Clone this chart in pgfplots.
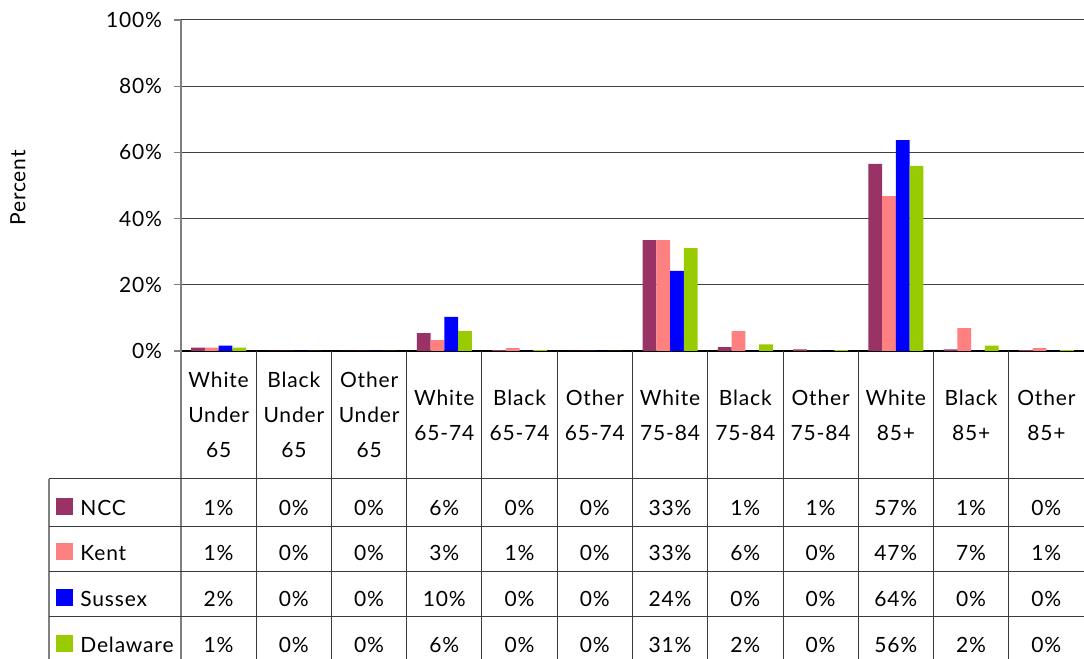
\documentclass[border=0pt]{standalone}
\usepackage{fontspec}
\setmainfont{Lato}[LetterSpace=4]
\usepackage{pgfplots}
\pgfplotsset{compat=1.18}
\definecolor{ncc}{HTML}{993366}
\definecolor{kent}{HTML}{FF8080}
\definecolor{sussex}{HTML}{0000FF}
\definecolor{delaware}{HTML}{99CC00}
\definecolor{linec}{HTML}{808080}
\definecolor{tablec}{HTML}{3A3A3A}

% one row of the data table: baseline y, values
\newcommand\tablerow[2]{%
  \foreach \v [count=\i from 0] in {#2}
    \node[anchor=base, inner sep=0pt] at ({(\i+0.5)*37.625pt},#1) {\v\%};}

\begin{document}
\begin{tikzpicture}[font=\fontsize{10.5}{12.6}\selectfont]
\begin{axis}[
    at={(0,0)}, anchor=south west,
    scale only axis,
    width=451.5pt, height=165.5pt,
    ybar=0pt, bar width=6.875pt,
    xmin=-0.5, xmax=11.5,
    ymin=0, ymax=100,
    xtick=\empty,
    ytick={0,20,40,60,80,100},
    yticklabel={\pgfmathprintnumber{\tick}\%},
    /pgf/number format/assume math mode=true,
    yticklabel style={font=\fontsize{10.5}{12.6}\selectfont, xshift=-2.5pt},
    tick align=outside,
    major tick length=3.5pt,
    ytick style={linec, line width=0.6pt},
    axis x line*=bottom,
    axis y line*=left,
    x axis line style={black, line width=0.6pt, -},
    y axis line style={linec, line width=0.8pt, -},
    ymajorgrids,
    grid style={black!75, line width=0.5pt},
]
% NCC
\addplot[fill=ncc, draw=none] coordinates {
    (0,1) (1,0) (2,0) (3,5.4) (4,0.3) (5,0) (6,33.5) (7,1.2) (8,0.5) (9,56.5) (10,0.5) (11,0.3)
};
% Kent
\addplot[fill=kent, draw=none] coordinates {
    (0,1) (1,0) (2,0) (3,3.3) (4,0.9) (5,0) (6,33.5) (7,6) (8,0) (9,46.8) (10,6.9) (11,0.9)
};
% Sussex
\addplot[fill=sussex, draw=none] coordinates {
    (0,1.6) (1,0) (2,0) (3,10.3) (4,0) (5,0) (6,24.2) (7,0) (8,0) (9,63.7) (10,0) (11,0)
};
% Delaware
\addplot[fill=delaware, draw=none] coordinates {
    (0,1) (1,0) (2,0) (3,6) (4,0.3) (5,0) (6,31.1) (7,2) (8,0.3) (9,55.9) (10,1.6) (11,0.3)
};
\end{axis}

% y label
\node[rotate=90] at (-81.5pt,81.5pt) {Percent};

% data table grid
\draw[linec, line width=0.8pt] (0,0) -- (0,-156pt);
\foreach \i in {1,...,11}
  \draw[tablec, line width=0.5pt] (\i*37.625pt,0) -- (\i*37.625pt,-156pt);
\draw[linec, line width=0.6pt] (-66pt,-64pt) -- (-66pt,-156pt);
\foreach \y in {-64,-88,-110.5,-133}
  \draw[tablec, line width=0.5pt] (-66pt,\y pt) -- (451.5pt,\y pt);

% category headers
\foreach \lab [count=\i from 0] in {{White\\Under\\65},{Black\\Under\\65},{Other\\Under\\65},
    {White\\65-74},{Black\\65-74},{Other\\65-74},
    {White\\75-84},{Black\\75-84},{Other\\75-84},
    {White\\85+},{Black\\85+},{Other\\85+}}
  \node[align=center, inner sep=0pt, font=\fontsize{10.5}{17.5}\selectfont]
    at ({(\i+0.5)*37.625pt},-32pt) {\lab};

% legend keys and series names
\fill[ncc] (-62.5pt,-82pt) rectangle ++(8.5pt,8.5pt);
\fill[kent] (-62.5pt,-104.5pt) rectangle ++(8.5pt,8.5pt);
\fill[sussex] (-62.5pt,-127.5pt) rectangle ++(8.5pt,8.5pt);
\fill[delaware] (-62.5pt,-150.5pt) rectangle ++(8.5pt,8.5pt);
\node[anchor=base west, inner sep=0pt] at (-50.5pt,-82.5pt) {NCC};
\node[anchor=base west, inner sep=0pt] at (-50.5pt,-105pt) {Kent};
\node[anchor=base west, inner sep=0pt] at (-50.5pt,-128pt) {Sussex};
\node[anchor=base west, inner sep=0pt] at (-50.5pt,-151pt) {Delaware};

% table values
\tablerow{-82.5pt}{1,0,0,6,0,0,33,1,1,57,1,0}
\tablerow{-105pt}{1,0,0,3,1,0,33,6,0,47,7,1}
\tablerow{-128pt}{2,0,0,10,0,0,24,0,0,64,0,0}
\tablerow{-151pt}{1,0,0,6,0,0,31,2,0,56,2,0}

\pgfresetboundingbox
\path (-90.5pt,-154pt) rectangle (451.5pt,175.5pt);
\end{tikzpicture}
\end{document}
